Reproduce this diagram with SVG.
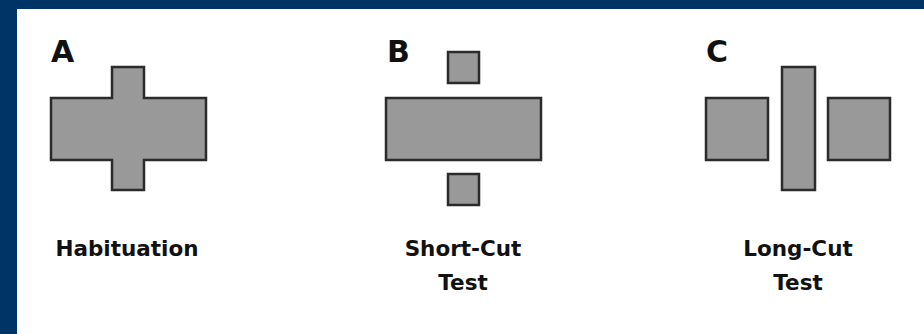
<svg xmlns="http://www.w3.org/2000/svg" width="924" height="334" viewBox="0 0 924 334">
  <style>
    .frame { fill: #003366; }
    .panel { fill: #ffffff; }
    .block { fill: #999999; stroke: #2b2b2b; stroke-width: 2.5; stroke-linejoin: miter; }
    .letter { font-family: "DejaVu Sans", "Liberation Sans", sans-serif; font-weight: bold; font-size: 30px; fill: #111111; }
    .label { font-family: "DejaVu Sans", "Liberation Sans", sans-serif; font-weight: bold; font-size: 21.5px; fill: #111111; text-anchor: middle; }
  </style>

  <!-- navy frame around the white panel -->
  <rect class="frame" x="0" y="0" width="924" height="334"/>
  <rect class="panel" x="17" y="9" width="907" height="325"/>

  <!-- A: habituation maze (cross) -->
  <g id="panel-a">
    <text class="letter" x="51" y="62">A</text>
    <path class="block" d="M112,67 H144 V98 H206 V160 H144 V190 H112 V160 H51 V98 H112 Z"/>
    <text class="label" x="127" y="256">Habituation</text>
  </g>

  <!-- B: short-cut test -->
  <g id="panel-b">
    <text class="letter" x="387" y="62">B</text>
    <rect class="block" x="448" y="52" width="31" height="31"/>
    <rect class="block" x="386" y="98" width="155" height="62"/>
    <rect class="block" x="448" y="174" width="31" height="31"/>
    <text class="label" x="463" y="256">Short-Cut</text>
    <text class="label" x="463" y="290">Test</text>
  </g>

  <!-- C: long-cut test -->
  <g id="panel-c">
    <text class="letter" x="706" y="62">C</text>
    <rect class="block" x="706" y="98" width="62" height="62"/>
    <rect class="block" x="782" y="67" width="33" height="123"/>
    <rect class="block" x="828" y="98" width="62" height="62"/>
    <text class="label" x="798" y="256">Long-Cut</text>
    <text class="label" x="798" y="290">Test</text>
  </g>
</svg>
